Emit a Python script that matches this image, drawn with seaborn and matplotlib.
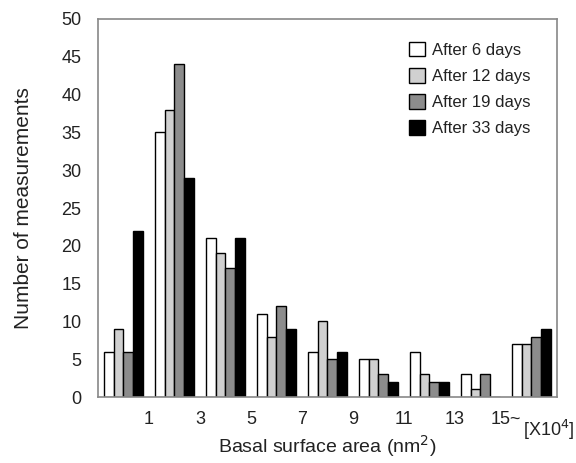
import numpy as np
import pandas as pd
import matplotlib
matplotlib.use('Agg')
import matplotlib.pyplot as plt
import seaborn as sns

# --- Data ---
BINS = ['b1', 'b2', 'b3', 'b4', 'b5', 'b6', 'b7', 'b8', 'b9']
SERIES = ['After 6 days', 'After 12 days', 'After 19 days', 'After 33 days']
DAY6 = [6, 35, 21, 11, 6, 5, 6, 3, 7]
DAY12 = [9, 38, 19, 8, 10, 5, 3, 1, 7]
DAY19 = [6, 44, 17, 12, 5, 3, 2, 3, 8]
DAY33 = [22, 29, 21, 9, 6, 2, 2, 0, 9]
TICK_LABELS = ['1', '3', '5', '7', '9', '11', '13', '15~']
COLORS = ['#ffffff', '#d0d0d0', '#8c8c8c', '#000000']

df = pd.DataFrame({
    'bin': BINS * 4,
    'count': DAY6 + DAY12 + DAY19 + DAY33,
    'series': [s for s in SERIES for _ in BINS],
})

sns.set_style('white')
plt.rcParams['font.family'] = ['Liberation Sans', 'DejaVu Sans']

fig = plt.figure(figsize=(5.76, 4.63), dpi=100)
ax = fig.add_axes([0.170, 0.1425, 0.797, 0.8165])

sns.barplot(data=df, x='bin', y='count', hue='series', palette=COLORS,
            edgecolor='black', linewidth=1.0, width=0.75, saturation=1,
            ax=ax)

ax.set_xlim(-0.5, len(BINS) - 0.5)
ax.set_ylim(0, 50)
ax.set_yticks(np.arange(0, 51, 5))
ax.tick_params(axis='y', labelsize=13, length=0, pad=12, colors='#222222')
ax.set_xticks(np.arange(len(TICK_LABELS)) + 0.5)
ax.set_xticklabels(TICK_LABELS)
ax.tick_params(axis='x', labelsize=13, length=0, pad=10, colors='#222222')

ax.set_xlabel('Basal surface area (nm$^2$)', fontsize=14, color='#222222', labelpad=4)
ax.set_ylabel('Number of measurements', fontsize=15, color='#222222', labelpad=20)
fig.text(0.998, 0.072, '[X10$^4$]', fontsize=13, color='#222222',
         ha='right', va='center')

for sp in ax.spines.values():
    sp.set_color('#888888')
    sp.set_linewidth(1.2)

leg = ax.legend(loc='upper right', bbox_to_anchor=(0.975, 0.98), frameon=False,
                fontsize=12, handlelength=1.0, handleheight=1.0,
                handletextpad=0.4, labelspacing=0.6)
for t in leg.get_texts():
    t.set_color('#222222')

plt.savefig('out.png', dpi=100)
plt.close()
